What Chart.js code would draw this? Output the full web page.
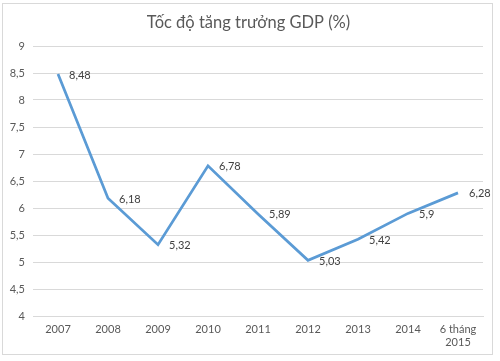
<!DOCTYPE html>
<html>
<head>
<meta charset="utf-8">
<script src="https://cdn.jsdelivr.net/npm/chart.js@4/dist/chart.umd.min.js"></script>
<style>
html,body{margin:0;padding:0;background:#fff;}
#wrap{position:relative;width:500px;height:361px;}
#frame{position:absolute;left:2px;top:3px;width:491px;height:352px;border:1px solid #d9d9d9;box-sizing:border-box;}
canvas{position:absolute;left:0;top:0;}
</style>
</head>
<body>
<div id="wrap"><div id="frame"></div><canvas id="c" width="500" height="361"></canvas></div>
<script>
const categories = ["2007","2008","2009","2010","2011","2012","2013","2014",["6 tháng","2015"]];
const values = [8.48,6.18,5.32,6.78,5.89,5.03,5.42,5.9,6.28];
const valueLabels = ["8,48","6,18","5,32","6,78","5,89","5,03","5,42","5,9","6,28"];
const titleText = "Tốc độ tăng trưởng GDP (%)";

const FONT = "Lato, 'Open Sans', sans-serif";

const dataLabelPlugin = {
  id: 'dataLabels',
  afterDatasetsDraw(chart) {
    const ctx = chart.ctx;
    const meta = chart.getDatasetMeta(0);
    ctx.save();
    ctx.font = "11px " + FONT;
    ctx.fillStyle = "#404040";
    ctx.textAlign = "left";
    ctx.textBaseline = "middle";
    meta.data.forEach((pt, i) => {
      ctx.fillText(valueLabels[i], pt.x + 11, pt.y + 1);
    });
    ctx.restore();
  }
};

new Chart(document.getElementById('c'), {
  type: 'line',
  data: {
    labels: categories,
    datasets: [{
      data: values,
      yAxisID: 'y',
      borderColor: '#5b9bd5',
      borderWidth: 2.75,
      pointRadius: 0,
      tension: 0,
      fill: false
    }]
  },
  options: {
    responsive: false,
    animation: false,
    devicePixelRatio: 1,
    layout: { padding: { left: 0, right: 3, top: 0, bottom: 0 } },
    plugins: {
      legend: { display: false },
      tooltip: { enabled: false },
      title: {
        display: true,
        text: titleText,
        color: '#595959',
        font: { family: FONT, size: 16.5, weight: 'normal', lineHeight: 1.2 },
        padding: { top: 13, bottom: 13.2 }
      }
    },
    scales: {
      x: {
        offset: true,
        grid: { display: false, drawTicks: false },
        border: { display: true, color: '#d9d9d9', width: 1 },
        ticks: {
          color: '#595959',
          font: { family: FONT, size: 11 },
          padding: 7,
          maxRotation: 0,
          autoSkip: false
        },
        afterFit(scale) { scale.height = 45; }
      },
      y: {
        position: 'left',
        min: 4,
        max: 9,
        grid: { color: '#d9d9d9', drawTicks: false },
        border: { display: false },
        ticks: {
          stepSize: 0.5,
          color: '#595959',
          font: { family: FONT, size: 11 },
          padding: 8,
          callback: v => String(v).replace('.', ',')
        },
        afterFit(scale) { scale.width = 33; }
      },
      yRightSpacer: {
        position: 'right',
        min: 4,
        max: 9,
        grid: { display: false, drawTicks: false },
        border: { display: false },
        ticks: { display: false },
        afterFit(scale) { scale.width = 14; }
      }
    }
  },
  plugins: [dataLabelPlugin]
});
</script>
</body>
</html>
